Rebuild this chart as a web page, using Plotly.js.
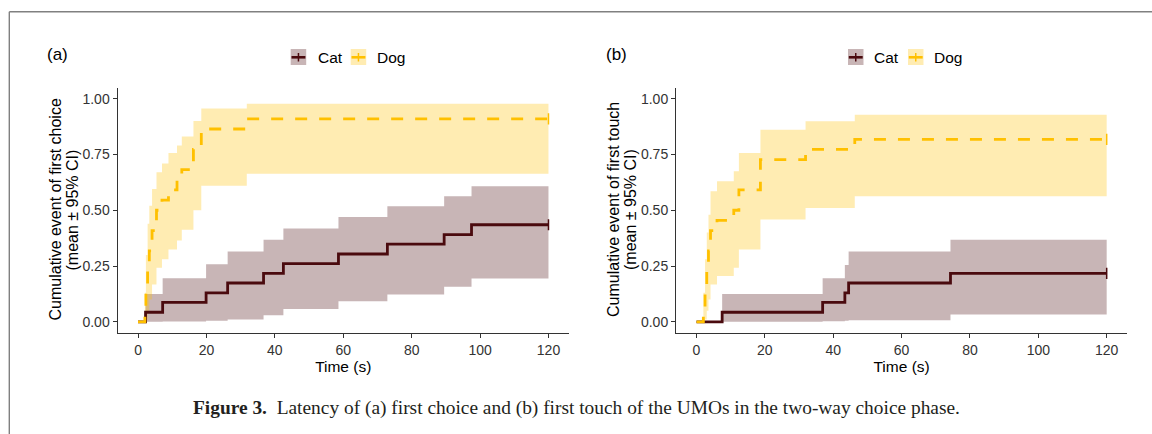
<!DOCTYPE html>
<html>
<head>
<meta charset="utf-8">
<script src="https://cdn.plot.ly/plotly-3.0.1.min.js"></script>
<style>html,body{margin:0;padding:0;background:#fff;}#chart{width:1152px;height:434px;}</style>
</head>
<body>
<div id="chart"></div>
<script>
// ---------- data ----------
const seriesNames = ["Cat", "Dog"];
const xTicks = [0, 20, 40, 60, 80, 100, 120];
const yTicks = [0, 0.25, 0.5, 0.75, 1.0];
const yTickLabels = ["0.00", "0.25", "0.50", "0.75", "1.00"];

// Panel (a): first choice
const catA_time  = [0, 2.2, 7.2, 19.9, 26.2, 36.7, 42.5, 58.6, 72.9, 89.5, 97.5, 120];
const catA_mean  = [0, 0.043, 0.087, 0.130, 0.174, 0.217, 0.261, 0.304, 0.348, 0.391, 0.435, 0.435];
const catA_lower = [0, 0, 0.002, 0.005, 0.010, 0.030, 0.057, 0.092, 0.122, 0.157, 0.194, 0.194];
const catA_upper = [0, 0.125, 0.195, 0.258, 0.315, 0.368, 0.418, 0.470, 0.518, 0.563, 0.608, 0.608];

const dogA_time  = [0, 2.0, 2.3, 2.8, 3.3, 4.1, 5.4, 7.0, 8.9, 11.4, 12.8, 16.2, 18.5, 31.8, 120];
const dogA_mean  = [0, 0.045, 0.136, 0.227, 0.318, 0.409, 0.500, 0.545, 0.591, 0.636, 0.682, 0.773, 0.864, 0.909, 0.909];
const dogA_lower = [0, 0, 0.010, 0.050, 0.100, 0.167, 0.242, 0.280, 0.324, 0.365, 0.413, 0.500, 0.610, 0.663, 0.663];
const dogA_upper = [0, 0.130, 0.300, 0.440, 0.520, 0.595, 0.670, 0.710, 0.757, 0.790, 0.830, 0.900, 0.956, 0.977, 0.977];

// Panel (b): first touch
const catB_time  = [0, 7.5, 36.9, 43.4, 44.5, 74.3, 120];
const catB_mean  = [0, 0.043, 0.087, 0.130, 0.174, 0.217, 0.217];
const catB_lower = [0, 0, 0.003, 0.005, 0.007, 0.033, 0.033];
const catB_upper = [0, 0.125, 0.195, 0.255, 0.315, 0.368, 0.368];

const dogB_time  = [0, 2.0, 2.5, 3.0, 3.5, 4.1, 6.0, 10.9, 12.4, 18.7, 31.9, 46.3, 120];
const dogB_mean  = [0, 0.045, 0.136, 0.227, 0.318, 0.409, 0.455, 0.500, 0.591, 0.727, 0.773, 0.818, 0.818];
const dogB_lower = [0, 0, 0.010, 0.050, 0.100, 0.167, 0.205, 0.242, 0.324, 0.458, 0.510, 0.563, 0.563];
const dogB_upper = [0, 0.130, 0.280, 0.400, 0.480, 0.585, 0.630, 0.675, 0.757, 0.861, 0.899, 0.928, 0.928];

const panelLabels = ["(a)", "(b)"];
const yTitleLine1 = ["Cumulative event of first choice", "Cumulative event of first touch"];
const yTitleLine2 = "(mean \u00b1 95% CI)";
const xTitle = "Time (s)";
const caption = "<b>Figure 3.</b>\u00a0\u00a0Latency of (a) first choice and (b) first touch of the UMOs in the two-way choice phase.";

// ---------- styling ----------
const W = 1152, H = 434;
const px = v => v / W;
const py = v => 1 - v / H;
const CAT = "#4A0A0E", CAT_FILL = "rgba(74,10,14,0.30)";
const DOG = "#FFC000", DOG_FILL = "rgba(255,192,0,0.30)";
const FONT = "Liberation Sans, Arial, sans-serif";

function panelTraces(xa, ya, cat, dog) {
  const t = [];
  const band = (time, lo, hi, fill) => {
    t.push({x: time, y: lo, xaxis: xa, yaxis: ya, type: "scatter", mode: "lines",
      line: {width: 0, shape: "hv"}, showlegend: false, hoverinfo: "skip"});
    t.push({x: time, y: hi, xaxis: xa, yaxis: ya, type: "scatter", mode: "lines",
      line: {width: 0, shape: "hv"}, fill: "tonexty", fillcolor: fill, showlegend: false, hoverinfo: "skip"});
  };
  band(cat.time, cat.lower, cat.upper, CAT_FILL);
  band(dog.time, dog.lower, dog.upper, DOG_FILL);
  t.push({x: cat.time, y: cat.mean, xaxis: xa, yaxis: ya, type: "scatter", mode: "lines",
    name: seriesNames[0], line: {color: CAT, width: 2.8, shape: "hv"}, showlegend: false});
  t.push({x: dog.time, y: dog.mean, xaxis: xa, yaxis: ya, type: "scatter", mode: "lines",
    name: seriesNames[1], line: {color: DOG, width: 2.8, shape: "hv", dash: "12px,12px"}, showlegend: false});
  // censor marks at end of follow-up
  [[cat, CAT], [dog, DOG]].forEach(([s, c]) => {
    const n = s.time.length - 1;
    t.push({x: [s.time[n]], y: [s.mean[n]], xaxis: xa, yaxis: ya, type: "scatter", mode: "markers",
      marker: {symbol: "line-ns-open", size: 8, color: c, line: {color: c, width: 1.5}}, showlegend: false, hoverinfo: "skip"});
  });
  return t;
}

const data = [].concat(
  panelTraces("x", "y",
    {time: catA_time, mean: catA_mean, lower: catA_lower, upper: catA_upper},
    {time: dogA_time, mean: dogA_mean, lower: dogA_lower, upper: dogA_upper}),
  panelTraces("x2", "y2",
    {time: catB_time, mean: catB_mean, lower: catB_lower, upper: catB_upper},
    {time: dogB_time, mean: dogB_mean, lower: dogB_lower, upper: dogB_upper})
);

const yDom = [py(333), py(87.5)];
function xAxis(dom, anchor) {
  return {domain: dom, anchor: anchor, range: [-6, 126], tickvals: xTicks, ticktext: xTicks.map(String),
    showline: true, linecolor: "#333", linewidth: 1, ticks: "outside", ticklen: 4, tickcolor: "#333",
    showgrid: false, zeroline: false, tickfont: {family: FONT, size: 14, color: "#333"},
    title: {text: xTitle, font: {family: FONT, size: 15.5, color: "#000"}, standoff: 4}, fixedrange: true};
}
function yAxis(anchor) {
  return {domain: yDom, anchor: anchor, range: [-0.05, 1.05], tickvals: yTicks, ticktext: yTickLabels,
    showline: true, linecolor: "#333", linewidth: 1, ticks: "outside", ticklen: 4, tickcolor: "#333",
    showgrid: false, zeroline: false, tickfont: {family: FONT, size: 14, color: "#333"}, fixedrange: true};
}

const annotations = [];
const shapes = [];
const panels = [
  {axisLeft: 117.5, label: 45, catKey: 290.7, catText: 316.7, dogKey: 350.7, dogText: 376},
  {axisLeft: 676, label: 603.7, catKey: 848, catText: 873, dogKey: 908, dogText: 933}
];
panels.forEach((p, i) => {
  annotations.push({xref: "paper", yref: "paper", x: px(p.label), y: py(54), xanchor: "left", yanchor: "middle",
    text: panelLabels[i], showarrow: false, font: {family: FONT, size: 17, color: "#000"}});
  annotations.push({xref: "paper", yref: "paper", x: px(p.axisLeft - 63), y: py(210), xanchor: "center", yanchor: "middle",
    textangle: -90, text: yTitleLine1[i], showarrow: false, font: {family: FONT, size: 16, color: "#000"}});
  annotations.push({xref: "paper", yref: "paper", x: px(p.axisLeft - 46), y: py(210), xanchor: "center", yanchor: "middle",
    textangle: -90, text: yTitleLine2, showarrow: false, font: {family: FONT, size: 16, color: "#000"}});
  [[p.catKey, p.catText, CAT, CAT_FILL, seriesNames[0]], [p.dogKey, p.dogText, DOG, DOG_FILL, seriesNames[1]]]
    .forEach(([k, tx, c, f, name]) => {
      shapes.push({type: "rect", xref: "paper", yref: "paper", x0: px(k), x1: px(k + 15.5), y0: py(65), y1: py(49),
        fillcolor: f, line: {width: 0}});
      shapes.push({type: "line", xref: "paper", yref: "paper", x0: px(k + 0.8), x1: px(k + 14.7), y0: py(57.3), y1: py(57.3),
        line: {color: c, width: 2.6}});
      shapes.push({type: "line", xref: "paper", yref: "paper", x0: px(k + 7.75), x1: px(k + 7.75), y0: py(53), y1: py(61.5),
        line: {color: c, width: 1.5}});
      annotations.push({xref: "paper", yref: "paper", x: px(tx - 1), y: py(57.3), xanchor: "left", yanchor: "middle",
        text: name, showarrow: false, font: {family: FONT, size: 15.5, color: "#000"}});
    });
});
annotations.push({xref: "paper", yref: "paper", x: px(576), y: py(408), xanchor: "center", yanchor: "middle",
  text: caption, showarrow: false, font: {family: "Liberation Serif, Times New Roman, serif", size: 19.4, color: "#231F20"}});
// page frame
shapes.push({type: "line", xref: "paper", yref: "paper", x0: px(9.3), x1: 1, y0: py(11.7), y1: py(11.7),
  line: {color: "#808080", width: 1.4}});
shapes.push({type: "line", xref: "paper", yref: "paper", x0: px(9.3), x1: px(9.3), y0: py(11.7), y1: 0,
  line: {color: "#808080", width: 1.4}});

const layout = {
  width: W, height: H, margin: {l: 0, r: 0, t: 0, b: 0},
  paper_bgcolor: "#fff", plot_bgcolor: "#fff", showlegend: false,
  xaxis: xAxis([px(117.5), px(569)], "y"),
  yaxis: yAxis("x"),
  xaxis2: xAxis([px(676), px(1127.2)], "y2"),
  yaxis2: yAxis("x2"),
  annotations: annotations, shapes: shapes
};
Plotly.newPlot("chart", data, layout, {displayModeBar: false, staticPlot: true});
</script>
</body>
</html>
